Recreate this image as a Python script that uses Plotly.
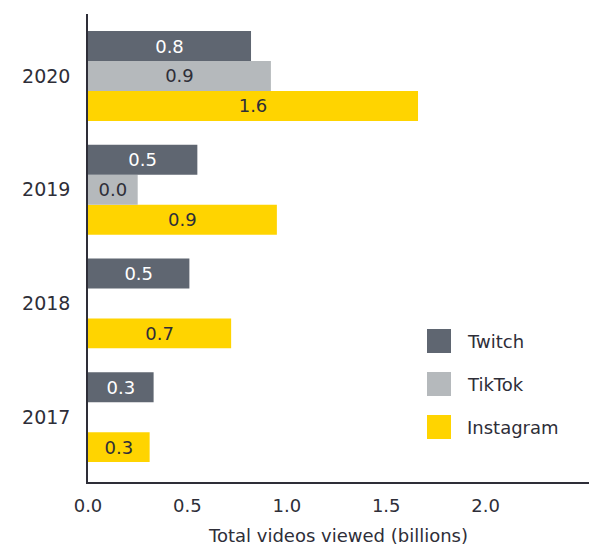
import plotly.graph_objects as go

years = ["2017", "2018", "2019", "2020"]
series_names = ["Twitch", "TikTok", "Instagram"]
twitch = [0.33, 0.51, 0.55, 0.82]
tiktok = [None, None, 0.25, 0.92]
instagram = [0.31, 0.72, 0.95, 1.66]
twitch_labels = ["0.3", "0.5", "0.5", "0.8"]
tiktok_labels = ["", "", "0.0", "0.9"]
instagram_labels = ["0.3", "0.7", "0.9", "1.6"]
x_ticks = [0.0, 0.5, 1.0, 1.5, 2.0]
x_tick_labels = ["0.0", "0.5", "1.0", "1.5", "2.0"]

colors = {"Twitch": "#5F6671", "TikTok": "#B5B9BC", "Instagram": "#FFD400"}
text_colors = {"Twitch": "#FFFFFF", "TikTok": "#2E2E38", "Instagram": "#2E2E38"}
dark = "#2E2E38"
FONT = "DejaVu Sans"

W, H = 589, 546
PL, PR, PT, PB = 88, 589, 14, 482
ML, MR, MT, MB = PL, W - PR, PT, H - PB

fig = go.Figure()
data = {"Twitch": (twitch, twitch_labels), "TikTok": (tiktok, tiktok_labels),
        "Instagram": (instagram, instagram_labels)}
for name in reversed(series_names):
    vals, labs = data[name]
    fig.add_trace(go.Bar(
        y=years, x=vals, name=name, orientation="h",
        marker=dict(color=colors[name], line=dict(width=0)),
        text=labs, textposition="inside", insidetextanchor="middle",
        textfont=dict(family=FONT, size=18, color=text_colors[name]),
        textangle=0, cliponaxis=False, showlegend=False,
    ))

def xp(px):
    return (px - PL) / (PR - PL)
def yp(py):
    return (PB - py) / (PB - PT)

shapes = []
annotations = []
leg_tops = [329, 372, 415]
for name, top in zip(series_names, leg_tops):
    shapes.append(dict(type="rect", xref="paper", yref="paper",
                       x0=xp(427), x1=xp(451), y0=yp(top + 24), y1=yp(top),
                       fillcolor=colors[name], line=dict(width=0)))
    annotations.append(dict(xref="paper", yref="paper", x=xp(465), y=yp(top + 12),
                            text=name, showarrow=False, xanchor="left", yanchor="middle",
                            font=dict(family=FONT, size=18, color=dark)))

fig.update_layout(
    width=W, height=H,
    margin=dict(l=ML, r=MR, t=MT, b=MB, autoexpand=False),
    paper_bgcolor="white", plot_bgcolor="white",
    barmode="group", bargap=0.21, bargroupgap=0,
    font=dict(family=FONT, color=dark),
    shapes=shapes, annotations=annotations,
    xaxis=dict(range=[0, 2.52], tickvals=x_ticks, ticktext=x_tick_labels,
               showgrid=False, zeroline=False, showline=True, linecolor=dark, linewidth=1.5,
               ticks="outside", ticklen=7, tickcolor="rgba(0,0,0,0)",
               tickfont=dict(family=FONT, size=18, color=dark),
               title=dict(text="Total videos viewed (billions)", standoff=15,
                          font=dict(family=FONT, size=18, color=dark))),
    yaxis=dict(range=[-0.57, 3.545], showgrid=False, zeroline=False,
               showline=True, linecolor=dark, linewidth=1.5,
               ticks="outside", ticklen=12, tickcolor="rgba(0,0,0,0)",
               tickfont=dict(family=FONT, size=19, color=dark)),
)

fig.write_html(
    "out.html",
    config={"displayModeBar": False},
    post_script="document.body.style.margin='0';document.body.style.overflow='hidden';",
)
